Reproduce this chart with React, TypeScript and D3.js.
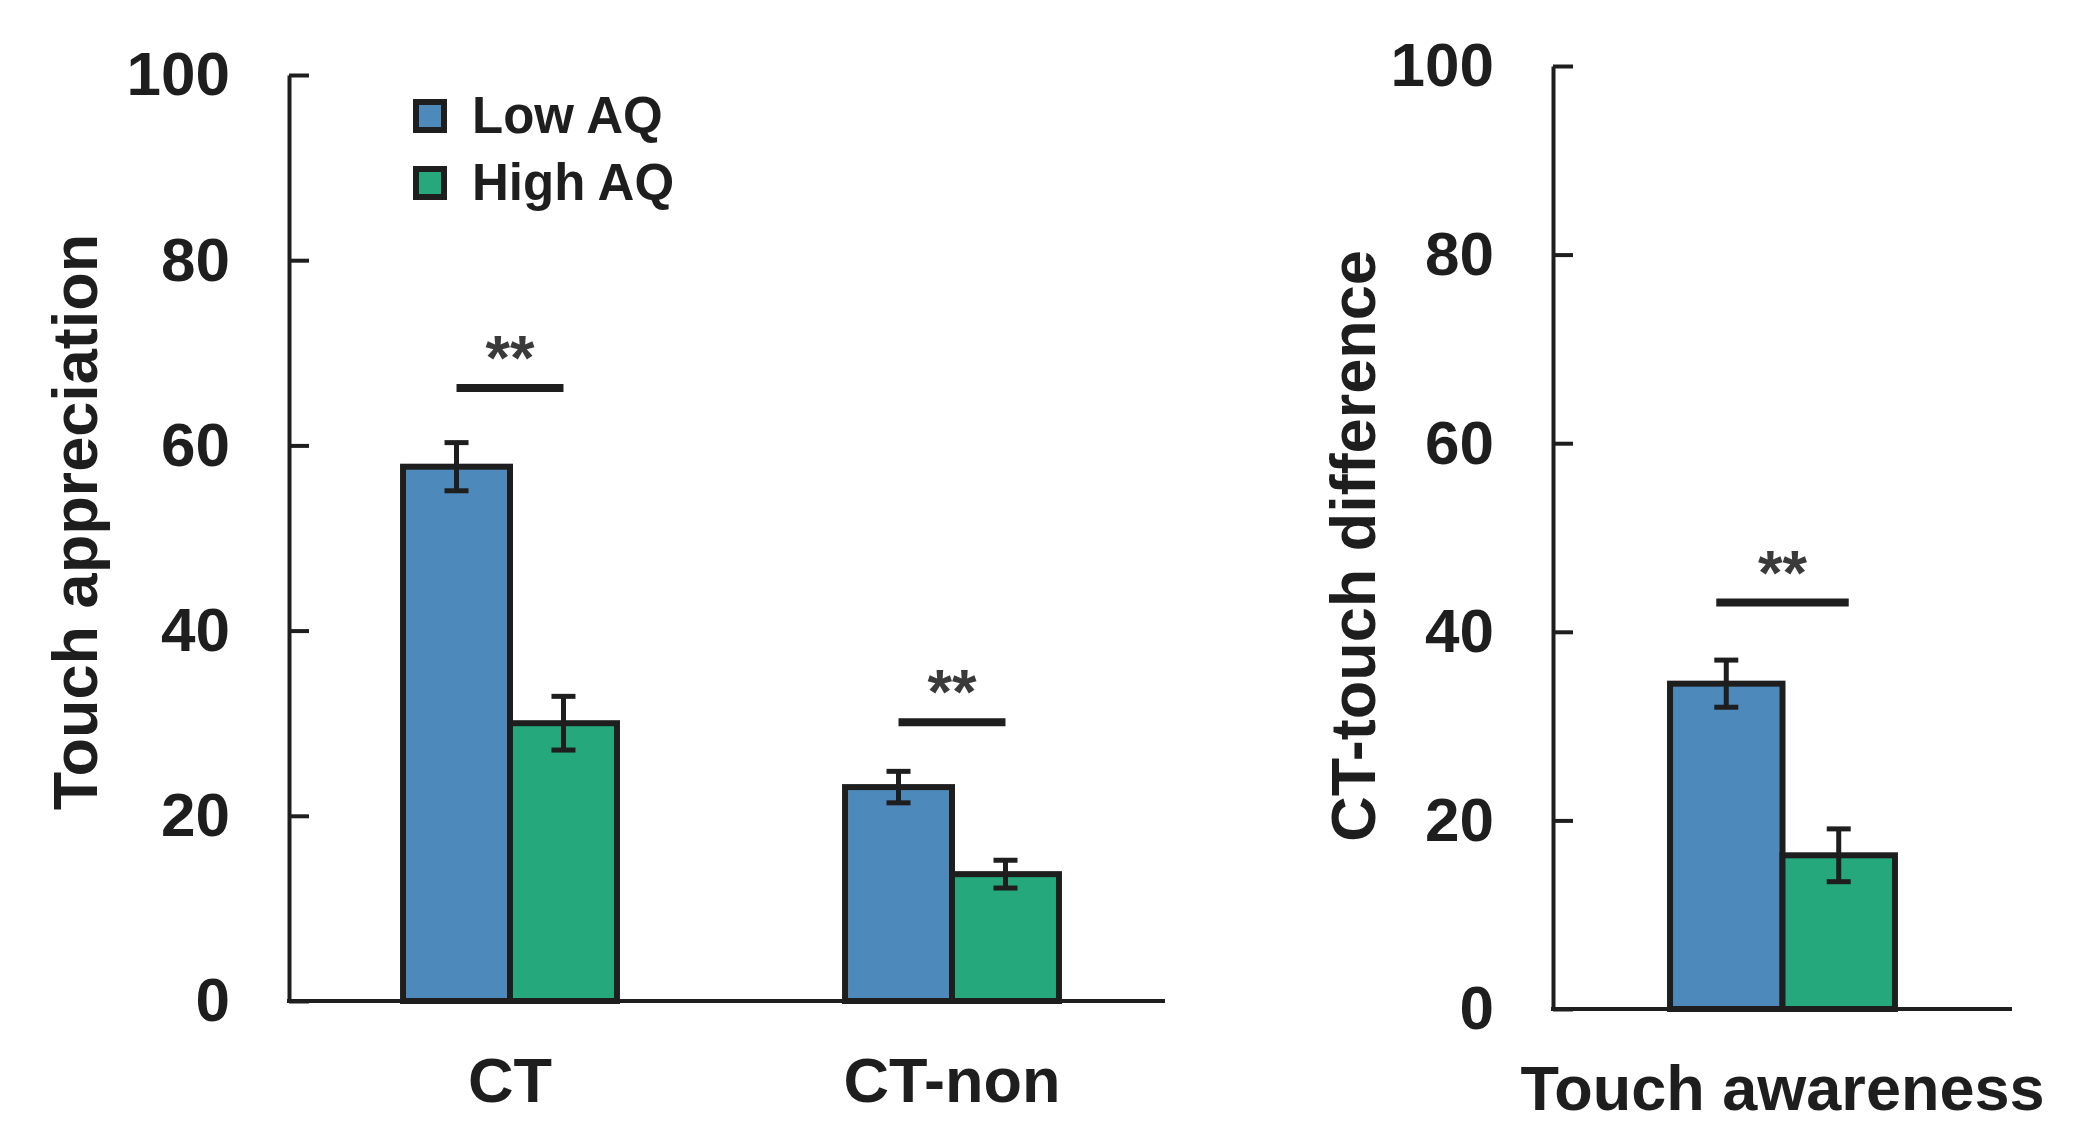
import React, { useRef, useEffect } from 'react'
import * as d3 from 'd3'

// Touch appreciation panel
const appreciationCategories = ['CT', 'CT-non']
const groups = ['Low AQ', 'High AQ']
const appreciationLow = [57.7, 23.1]
const appreciationLowErr = [2.6, 1.7]
const appreciationHigh = [30.0, 13.7]
const appreciationHighErr = [2.9, 1.5]
const appreciationSig = [66.2, 30.1]

// CT-touch difference panel
const differenceCategories = ['Touch awareness']
const differenceLow = [34.5]
const differenceLowErr = [2.5]
const differenceHigh = [16.3]
const differenceHighErr = [2.8]
const differenceSig = [43.1]

const yTicks = [0, 20, 40, 60, 80, 100]

const COLORS = {
  'Low AQ': '#4E89BC',
  'High AQ': '#25A87B',
}

const STYLE = {
  ink: '#1E1E1E',
  star: '#3A3A3A',
  font: '"Liberation Sans", Arial, sans-serif',
}

const WIDTH = 2076
const HEIGHT = 1146

interface Panel {
  categories: string[]
  low: number[]
  lowErr: number[]
  high: number[]
  highErr: number[]
  sig: number[]
  left: number
  bandRight: number
  axisRight: number
  top: number
  bottom: number
  inner: number
  title: string
  titleX: number
  titleY: number
  labelY: number
  labelSize: number
  sigExtend: number
}

function drawPanel(svg: d3.Selection<SVGSVGElement, unknown, null, undefined>, p: Panel) {
  const g = svg.append('g')

  const y = d3.scaleLinear().domain([0, 100]).range([p.bottom, p.top])

  const x0 = d3.scaleBand<string>()
    .domain(p.categories)
    .range([p.left, p.bandRight])
    .paddingInner(p.inner)
    .paddingOuter(p.inner / 2)

  const x1 = d3.scaleBand<string>()
    .domain(groups)
    .range([0, x0.bandwidth()])
    .padding(0)

  const rows = p.categories.flatMap((c, i) => [
    { cat: c, group: groups[0], value: p.low[i], err: p.lowErr[i] },
    { cat: c, group: groups[1], value: p.high[i], err: p.highErr[i] },
  ])

  // Bars
  g.selectAll('.bar')
    .data(rows)
    .enter().append('rect')
    .attr('x', d => x0(d.cat)! + x1(d.group)!)
    .attr('y', d => y(d.value))
    .attr('width', x1.bandwidth())
    .attr('height', d => y(0) - y(d.value))
    .attr('fill', d => COLORS[d.group as keyof typeof COLORS])
    .attr('stroke', STYLE.ink)
    .attr('stroke-width', 6)

  // Error bars
  const cx = (d: typeof rows[number]) => x0(d.cat)! + x1(d.group)! + x1.bandwidth() / 2
  const err = g.selectAll('.err').data(rows).enter().append('g')
  err.append('line')
    .attr('x1', cx).attr('x2', cx)
    .attr('y1', d => y(d.value + d.err))
    .attr('y2', d => y(d.value - d.err))
    .attr('stroke', STYLE.ink).attr('stroke-width', 5)
  ;[1, -1].forEach(s => {
    err.append('line')
      .attr('x1', d => cx(d) - 12).attr('x2', d => cx(d) + 12)
      .attr('y1', d => y(d.value + s * d.err))
      .attr('y2', d => y(d.value + s * d.err))
      .attr('stroke', STYLE.ink).attr('stroke-width', 5)
  })

  // Significance markers
  p.categories.forEach((c, i) => {
    const xa = x0(c)! + x1(groups[0])! + x1.bandwidth() / 2 - p.sigExtend
    const xb = x0(c)! + x1(groups[1])! + x1.bandwidth() / 2 + p.sigExtend
    g.append('line')
      .attr('x1', xa).attr('x2', xb)
      .attr('y1', y(p.sig[i])).attr('y2', y(p.sig[i]))
      .attr('stroke', STYLE.ink).attr('stroke-width', 8)
    g.append('text')
      .attr('x', (xa + xb) / 2)
      .attr('y', y(p.sig[i]) - 9)
      .attr('text-anchor', 'middle')
      .style('font-family', STYLE.font)
      .style('font-weight', 'bold')
      .style('font-size', '63px')
      .style('fill', STYLE.star)
      .text('**')
  })

  // Y axis, ticks point inwards
  const yAxis = g.append('g')
    .attr('transform', `translate(${p.left},0)`)
    .call(d3.axisLeft(y).tickValues(yTicks).tickSizeInner(-20).tickSizeOuter(0).tickPadding(59))
  yAxis.select('.domain').attr('stroke', STYLE.ink).attr('stroke-width', 4)
  yAxis.selectAll('.tick line').attr('stroke', STYLE.ink).attr('stroke-width', 4)
  yAxis.selectAll('text')
    .style('font-family', STYLE.font)
    .style('font-weight', 'bold')
    .style('font-size', '62px')
    .style('fill', STYLE.ink)

  // X axis
  g.append('line')
    .attr('x1', p.left - 2).attr('x2', p.axisRight)
    .attr('y1', y(0)).attr('y2', y(0))
    .attr('stroke', STYLE.ink).attr('stroke-width', 4)

  g.selectAll('.xlabel')
    .data(p.categories)
    .enter().append('text')
    .attr('x', d => x0(d)! + x0.bandwidth() / 2)
    .attr('y', p.labelY)
    .attr('text-anchor', 'middle')
    .style('font-family', STYLE.font)
    .style('font-weight', 'bold')
    .style('font-size', `${p.labelSize}px`)
    .style('fill', STYLE.ink)
    .text(d => d)

  // Y title
  g.append('text')
    .attr('transform', `translate(${p.titleX},${p.titleY}) rotate(-90)`)
    .attr('text-anchor', 'middle')
    .style('font-family', STYLE.font)
    .style('font-weight', 'bold')
    .style('font-size', '63px')
    .style('fill', STYLE.ink)
    .text(p.title)
}

export default function App() {
  const svgRef = useRef<SVGSVGElement>(null)

  useEffect(() => {
    if (!svgRef.current) return
    const svg = d3.select(svgRef.current)
    svg.selectAll('*').remove()

    drawPanel(svg, {
      categories: appreciationCategories,
      low: appreciationLow, lowErr: appreciationLowErr,
      high: appreciationHigh, highErr: appreciationHighErr,
      sig: appreciationSig,
      left: 289, bandRight: 1173, axisRight: 1165,
      top: 75, bottom: 1001, inner: 0.516,
      title: 'Touch appreciation', titleX: 97, titleY: 522,
      labelY: 1102, labelSize: 63, sigExtend: 0,
    })

    drawPanel(svg, {
      categories: differenceCategories,
      low: differenceLow, lowErr: differenceLowErr,
      high: differenceHigh, highErr: differenceHighErr,
      sig: differenceSig,
      left: 1553, bandRight: 2012, axisRight: 2012,
      top: 66, bottom: 1009, inner: 0.51,
      title: 'CT-touch difference', titleX: 1375, titleY: 546,
      labelY: 1110, labelSize: 63, sigExtend: 10,
    })

    // Legend
    const legend = svg.append('g').attr('transform', 'translate(416,102)')
    const items = legend.selectAll('.legend-item')
      .data(groups)
      .enter().append('g')
      .attr('transform', (d, i) => `translate(0,${i * 67})`)
    items.append('rect')
      .attr('width', 28).attr('height', 28)
      .attr('fill', d => COLORS[d as keyof typeof COLORS])
      .attr('stroke', STYLE.ink)
      .attr('stroke-width', 6)
    items.append('text')
      .attr('x', 56).attr('y', 31)
      .style('font-family', STYLE.font)
      .style('font-weight', 'bold')
      .style('font-size', '51px')
      .style('fill', STYLE.ink)
      .text(d => d)
  }, [])

  return (
    <svg
      ref={svgRef}
      width={WIDTH}
      height={HEIGHT}
      style={{ position: 'absolute', left: 0, top: 0, background: '#FFFFFF' }}
    />
  )
}
